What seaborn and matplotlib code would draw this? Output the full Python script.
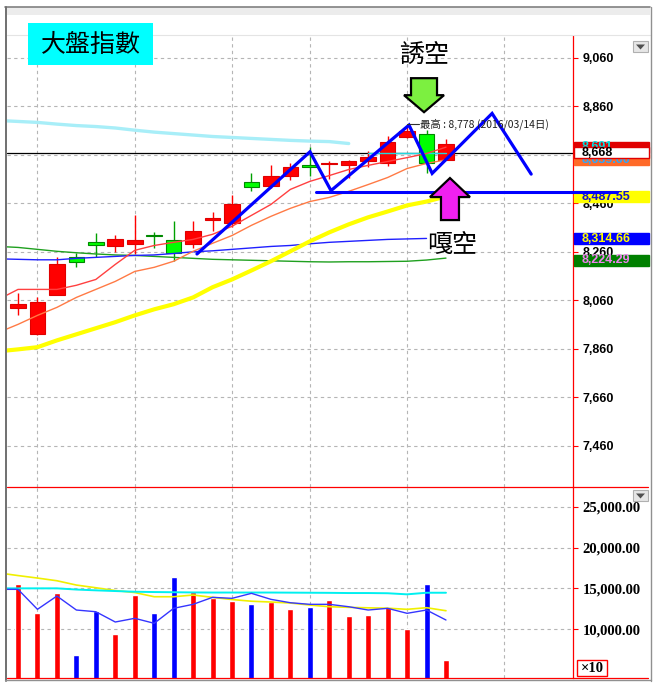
import numpy as np
import pandas as pd
import seaborn as sns
import matplotlib
matplotlib.use("Agg")
import matplotlib.pyplot as plt
import matplotlib.transforms as mtransforms
from matplotlib.patches import Rectangle, Polygon
from matplotlib.lines import Line2D

sns.set_style("white")
plt.rcParams["font.family"] = ["Noto Sans CJK TC", "DejaVu Sans"]
plt.rcParams["axes.axisbelow"] = True

CJK = ["Noto Sans CJK TC", "DejaVu Sans"]

# ---------------- daily candles ----------------
days = list(range(23))
opens = [8029, 7923, 8083, 8238, 8300, 8284, 8293, 8329, 8307, 8293, 8392, 8377,
         8548, 8533, 8572, 8616, 8620, 8618, 8635, 8624, 8734, 8746, 8640]
closes = [8045, 8053, 8211, 8217, 8288, 8311, 8308, 8325, 8253, 8344, 8399, 8455,
          8528, 8574, 8609, 8610, 8624, 8635, 8650, 8714, 8757, 8624, 8705]
highs = [8092, 8075, 8238, 8256, 8339, 8328, 8413, 8343, 8386, 8386, 8425, 8493,
         8585, 8616, 8627, 8693, 8633, 8637, 8674, 8736, 8778, 8761, 8723]
lows = [7998, 7918, 8080, 8199, 8240, 8259, 8249, 8275, 8222, 8277, 8344, 8362,
        8510, 8522, 8554, 8574, 8561, 8565, 8610, 8613, 8730, 8586, 8640]
volumes = [15540, 12030, 14400, 6860, 12240, 9390, 14150, 11950, 16390, 14520, 13790, 13500,
           13090, 13370, 12440, 12690, 13580, 11630, 11750, 12760, 10040, 15500, 6250]
high_date = "2016/03/14"

# ---------------- moving averages (start one day before the first candle) ----------------
ma_days = list(range(-1, 23))
ma5 = [8064, 8105, 8105, 8105, 8122, 8146, 8208, 8266, 8286, 8299, 8311, 8332,
       8365, 8410, 8455, 8517, 8550, 8574, 8599, 8616, 8632, 8648, 8665, 8691]
ma10 = [7928, 7961, 7998, 8031, 8072, 8105, 8138, 8179, 8196, 8221, 8262, 8295,
        8327, 8369, 8406, 8439, 8467, 8484, 8509, 8537, 8566, 8603, 8624, 8639]
ma20 = [7850, 7858, 7867, 7895, 7920, 7945, 7970, 7998, 8023, 8044, 8072, 8114,
        8146, 8183, 8221, 8262, 8303, 8340, 8373, 8402, 8426, 8451, 8467, 8488]
ma60_days = list(range(-1, 22))
ma60 = [8231, 8229, 8227, 8227, 8233, 8237, 8241, 8245, 8247, 8253, 8260, 8264,
        8270, 8276, 8282, 8286, 8293, 8299, 8303, 8307, 8311, 8313, 8315]
ma120 = [8282, 8278, 8270, 8262, 8256, 8251, 8247, 8245, 8241, 8237, 8233, 8229,
         8227, 8225, 8223, 8221, 8219, 8218, 8219, 8219, 8220, 8221, 8226, 8234]
ma240_days = list(range(-1, 18))
ma240 = [8801, 8797, 8793, 8786, 8780, 8776, 8770, 8761, 8753, 8747, 8741, 8735,
         8731, 8727, 8723, 8719, 8716, 8714, 8706]
ref_days = [18, 19, 20, 21, 22]
last_price = 8668

vol_ma_a = [16900, 16574, 16269, 15939, 15413, 15084, 14741, 14497, 13984, 13984, 14192, 13910,
            13642, 13434, 13336, 13214, 12969, 12762, 12688, 12627, 12578, 12444, 12640, 12273]
vol_ma_b = [15010, 15010, 15010, 15010, 14864, 14766, 14680, 14595, 14558, 14534, 14509, 14497,
            14497, 14497, 14497, 14485, 14473, 14460, 14436, 14436, 14411, 14277, 14473, 14473]
vol_ma_c = [14888, 14888, 12444, 14069, 12358, 12151, 10892, 11344, 10733, 12566, 13055, 13910,
            13788, 14399, 13666, 13251, 13055, 13055, 12762, 12358, 12566, 11955, 12358, 11136]

# right-hand value badges: value, text, fill, text colour, edge
badges = [
    (8691, "8,691", "#e00000", "#00e0e0", "#e00000"),
    (8639, "8,639.00", "#ff6a28", "#2aa8ff", "#ff6a28"),
    (8668, "8,668", "white", "black", "#e00000"),
    (8487.55, "8,487.55", "#ffff00", "#1010d0", "#ffff00"),
    (8314.66, "8,314.66", "#0000ff", "#ffff00", "#0000ff"),
    (8224.29, "8,224.29", "#008000", "#ee82ee", "#008000"),
]

# hand-drawn pattern lines (day, price)
zigzag = [(9.20, 8251), (15.01, 8672), (16.09, 8512), (20.10, 8782),
          (21.29, 8583), (24.37, 8830), (26.38, 8580)]
neckline = [(15.3, 8505), (30.8, 8505)]

price_ticks = [7460, 7660, 7860, 8060, 8260, 8460, 8660, 8860, 9060]
vol_ticks = [10000, 15000, 20000, 25000]
day_grid = [1, 6, 11, 15, 20, 25]

# ---------------- figure ----------------
W, H = 660, 685
fig = plt.figure(figsize=(W / 100, H / 100), dpi=100)
fig.patch.set_facecolor("white")
PX = mtransforms.Affine2D().scale(1 / W, -1 / H).translate(0, 1) + fig.transFigure

L, R, PT, PB, VB = 7, 573, 36, 487, 678
ax = fig.add_axes([L / W, (H - PB) / H, (R - L) / W, (PB - PT) / H])
axv = fig.add_axes([L / W, (H - VB) / H, (R - L) / W, (VB - PB) / H], sharex=ax)

XLIM = (-0.566, 28.53)
ax.set_xlim(*XLIM)
ax.set_ylim(7291, 9149)
axv.set_ylim(4041, 27410)

grid_kw = dict(color="#b5b5b5", linestyle=(0, (3, 3)), linewidth=0.8)
for a in (ax, axv):
    a.set_facecolor("white")
    for s in ("left", "top", "bottom"):
        a.spines[s].set_visible(False)
    a.spines["right"].set_color("red")
    a.spines["right"].set_linewidth(0.9)
    a.set_xticks(day_grid)
    a.tick_params(axis="x", length=0, labelbottom=False)
    a.xaxis.grid(True, **grid_kw)
    a.yaxis.grid(True, **grid_kw)
    a.yaxis.tick_right()
    a.tick_params(axis="y", direction="out", length=3.6, width=0.8, color="red",
                  pad=3.4, right=True, left=False, labelright=True, labelleft=False)

ax.set_yticks(price_ticks, labels=[f"{v:,}" for v in price_ticks],
              fontfamily="Liberation Sans", fontweight="bold", fontsize=9, color="black")
axv.set_yticks(vol_ticks, labels=[f"{v:,.2f}" for v in vol_ticks],
               fontfamily="Liberation Serif", fontweight="bold", fontsize=10.5, color="black")

# ---------------- candles ----------------
up = [c >= o for o, c in zip(opens, closes)]
wick_col = ["#ff0000" if u else "#00a000" for u in up]
body_col = ["#ff0000" if u else "#00ff00" for u in up]
edge_col = ["#e00000" if u else "#008800" for u in up]
ax.axhline(last_price, color="black", lw=0.9, zorder=1.5)
ax.vlines(days, lows, highs, colors=wick_col, lw=1.0, zorder=2)
bottoms = [min(o, c) for o, c in zip(opens, closes)]
heights = [max(abs(c - o), 4) for o, c in zip(opens, closes)]
ax.bar(days, heights, bottom=bottoms, width=0.8, color=body_col,
       edgecolor=edge_col, linewidth=0.8, zorder=3)

# ---------------- price moving averages ----------------
line_kw = dict(ax=ax, legend=False, sort=False, estimator=None)
sns.lineplot(x=ma240_days, y=ma240, color="#a8eef8", linewidth=2.4, **line_kw)
sns.lineplot(x=ref_days, y=[last_price] * len(ref_days), color="#20d8e0", linewidth=1.0, **line_kw)
sns.lineplot(x=ma_days, y=ma120, color="#1fa01f", linewidth=1.0, **line_kw)
sns.lineplot(x=ma60_days, y=ma60, color="#2020ff", linewidth=1.0, **line_kw)
sns.lineplot(x=ma_days, y=ma20, color="#ffff00", linewidth=3.0, **line_kw)
sns.lineplot(x=ma_days, y=ma10, color="#ff7a45", linewidth=1.0, **line_kw)
sns.lineplot(x=ma_days, y=ma5, color="#ff4040", linewidth=1.0, **line_kw)
for ln in ax.lines[1:]:
    ln.set_zorder(4)

# ---------------- pattern lines ----------------
zx, zy = zip(*zigzag)
ax.plot(zx, zy, color="#0000ff", lw=2.3, zorder=6, solid_joinstyle="miter")
nx, ny = zip(*neckline)
ax.plot(nx, ny, color="#0000ff", lw=2.2, zorder=8, clip_on=False)

# ---------------- value badges ----------------
yx = ax.get_yaxis_transform()
bh = 11 * (9149 - 7291) / (PB - PT)
for i, (v, txt, fc, tc, ec) in enumerate(badges):
    ax.add_patch(Rectangle((1.0018, v - bh / 2), 0.1325, bh, transform=yx, clip_on=False,
                           facecolor=fc, edgecolor=ec, lw=1.0, zorder=5 + i * 0.1))
    ax.text(1.0159, v, txt, transform=yx, ha="left", va="center", color=tc,
            fontfamily="Liberation Sans", fontweight="bold", fontsize=9,
            clip_on=False, zorder=5.05 + i * 0.1)

# ---------------- highest price note ----------------
top_day = int(np.argmax(highs))
def anchored(x, y, dx=0, dy=0):
    return (mtransforms.Affine2D().scale(1, -1).translate(dx, dy)
            + mtransforms.ScaledTranslation(x, y, ax.transData))

fig.add_artist(Line2D([0, 12], [-2, -2], transform=anchored(top_day, highs[top_day]),
                      color="#303030", lw=0.8))
ax.annotate(f"最高 : {highs[top_day]:,} ({high_date}日)", xy=(top_day, highs[top_day]),
            xytext=(13, 2), textcoords="offset pixels", ha="left", va="center",
            fontsize=7.5, color="#202020", family=CJK, zorder=7, annotation_clip=False)

# ---------------- arrows ----------------
down_arrow = [(-13, -34), (13, -34), (13, -17), (20, -17), (0, 0), (-20, -17), (-13, -17)]
up_arrow = [(0, 0), (20, 19), (9, 19), (9, 42), (-9, 42), (-9, 19), (-20, 19)]
fig.add_artist(Polygon(down_arrow, closed=True, facecolor="#7cf040", edgecolor="black",
                       lw=1.6, transform=anchored(21, highs[21], -2.5, 18), zorder=9))
fig.add_artist(Polygon(up_arrow, closed=True, facecolor="#f020f0", edgecolor="black",
                       lw=1.6, transform=anchored(22, lows[22], 4, -18.5), zorder=9))

# ---------------- volume panel ----------------
vol_df = pd.DataFrame({"day": days, "volume": volumes,
                       "move": ["up" if u else "down" for u in up]})
sns.barplot(data=vol_df, x="day", y="volume", hue="move", ax=axv, native_scale=True,
            palette={"up": "#ff0000", "down": "#0000ff"}, width=0.31, saturation=1,
            errorbar=None, dodge=False, legend=False)
vkw = dict(ax=axv, legend=False, sort=False, estimator=None)
sns.lineplot(x=ma_days, y=vol_ma_a, color="#f0f000", linewidth=1.2, **vkw)
sns.lineplot(x=ma_days, y=vol_ma_b, color="#00f0f0", linewidth=1.4, **vkw)
sns.lineplot(x=ma_days, y=vol_ma_c, color="#3535ff", linewidth=1.0, **vkw)
axv.set_xlim(*XLIM)
axv.set_ylim(4041, 27410)
axv.set_xlabel("")
axv.set_ylabel("")
ax.set_xlabel("")
ax.set_ylabel("")

# ---------------- frame and header ----------------
fig.add_artist(Rectangle((6, 7), 644, 8, transform=PX, facecolor="#ececec",
                         edgecolor="none", zorder=1))
for (x0, y0, x1, y1, c, lw) in [
    (5, 7.5, 650, 7.5, "#808080", 1.2),
    (7, 35.5, 650, 35.5, "#e4e4e4", 0.8),
    (6, 7, 6, 681, "#707070", 1.4),
    (650.5, 7, 650.5, 681, "#909090", 1.0),
    (5, 680.5, 651, 680.5, "#909090", 1.0),
    (7, 487, 648, 487, "#ff0000", 0.9),
    (7, 678, 648, 678, "#ff0000", 0.9),
]:
    fig.add_artist(Line2D([x0, x1], [y0, y1], transform=PX, color=c, lw=lw, zorder=2))

for top in (41, 490):
    fig.add_artist(Rectangle((633, top), 15, 11, transform=PX, facecolor="#e6e6e6",
                             edgecolor="#b0b0b0", lw=0.8, zorder=3))
    fig.add_artist(Polygon([(636, top + 3.5), (645, top + 3.5), (640.5, top + 8.5)],
                           transform=PX, facecolor="#505050", edgecolor="none", zorder=4))

fig.add_artist(Rectangle((577, 660), 30, 16, transform=PX, facecolor="white",
                         edgecolor="#ff0000", lw=1.0, zorder=3))
fig.text(592, 668.5, "×10", transform=PX, ha="center", va="center", fontsize=10.5,
         fontfamily="Liberation Serif", fontweight="bold", color="black", zorder=4)

fig.add_artist(Rectangle((28, 23), 125, 42, transform=PX, facecolor="#00ffff",
                         edgecolor="none", zorder=3))
fig.text(90.5, 45, "大盤指數", transform=PX, ha="center", va="center", fontsize=18,
         family=CJK, color="black", zorder=4)
fig.text(424, 55, "誘空", transform=PX, ha="center", va="center", fontsize=18,
         family=CJK, color="black", zorder=4)
fig.text(452, 245, "嘎空", transform=PX, ha="center", va="center", fontsize=18,
         family=CJK, color="black", zorder=4)

fig.savefig("out.png", dpi=100, facecolor="white")
